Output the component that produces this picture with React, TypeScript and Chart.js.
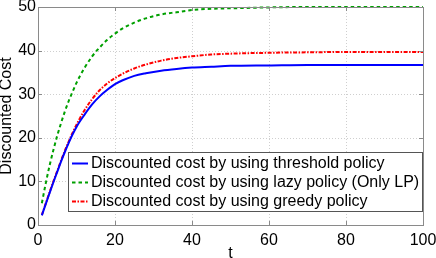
import React, { useEffect, useRef } from "react";
import { Chart, registerables } from "chart.js";

Chart.register(...registerables);

const tValues = [1, 2, 3, 4, 5, 6, 7, 8, 9, 10, 12, 14, 16, 18, 20, 22, 25, 28, 32, 36, 40, 45, 50, 60, 70, 80, 90, 100];
const thresholdCost = [2.2, 4.8, 7.3, 9.8, 12.2, 14.6, 16.8, 18.9, 20.8, 22.5, 25.2, 27.6, 29.5, 31.0, 32.3, 33.2, 34.2, 34.8, 35.4, 35.8, 36.1, 36.3, 36.5, 36.6, 36.7, 36.7, 36.7, 36.7];
const lazyCost = [5.0, 9.5, 13.6, 17.2, 20.5, 23.4, 26.1, 28.5, 30.6, 32.6, 35.9, 38.6, 40.7, 42.5, 43.9, 45.1, 46.4, 47.4, 48.3, 48.8, 49.3, 49.6, 49.7, 49.9, 50.0, 50.0, 50.0, 50.0];
const greedyCost = [2.3, 4.9, 7.5, 10.0, 12.4, 14.8, 17.1, 19.2, 21.2, 23.0, 26.2, 28.8, 30.9, 32.5, 33.7, 34.7, 35.9, 36.8, 37.7, 38.3, 38.7, 39.1, 39.3, 39.5, 39.6, 39.7, 39.7, 39.7];
const seriesLabels = [
  "Discounted cost by using threshold policy",
  "Discounted cost by using lazy policy (Only LP)",
  "Discounted cost by using greedy policy",
];
const xTicks = [0, 20, 40, 60, 80, 100];
const yTicks = [0, 10, 20, 30, 40, 50];
const xTitle = "t";
const yTitle = "Discounted Cost";

const FONT = "'Liberation Sans', Arial, Helvetica, sans-serif";

const boxPlugin = {
  id: "matlabBox",
  beforeDatasetsDraw(chart: any) {
    const { ctx, chartArea, scales } = chart;
    const { left, right, top, bottom } = chartArea;
    ctx.save();
    ctx.strokeStyle = "#cfcfcf";
    ctx.lineWidth = 1;
    ctx.setLineDash([1, 2]);
    ctx.beginPath();
    xTicks.forEach((v) => {
      const x = Math.round(scales.x.getPixelForValue(v)) + 0.5;
      if (x < left + 2 || x > right - 2) return;
      ctx.moveTo(x, top);
      ctx.lineTo(x, bottom);
    });
    yTicks.forEach((v) => {
      const y = Math.round(scales.y.getPixelForValue(v)) + 0.5;
      if (y < top + 2 || y > bottom - 2) return;
      ctx.moveTo(left, y);
      ctx.lineTo(right, y);
    });
    ctx.stroke();
    ctx.restore();
  },
  afterDatasetsDraw(chart: any) {
    const { ctx, chartArea, scales } = chart;
    const { left, right, top, bottom } = chartArea;
    ctx.save();
    ctx.strokeStyle = "#8a8a8a";
    ctx.lineWidth = 1;
    ctx.beginPath();
    const tl = 4;
    xTicks.forEach((v) => {
      const x = Math.round(scales.x.getPixelForValue(v)) + 0.5;
      ctx.moveTo(x, bottom);
      ctx.lineTo(x, bottom - tl);
      ctx.moveTo(x, top);
      ctx.lineTo(x, top + tl);
    });
    yTicks.forEach((v) => {
      const y = Math.round(scales.y.getPixelForValue(v)) + 0.5;
      ctx.moveTo(left, y);
      ctx.lineTo(left + tl, y);
      ctx.moveTo(right, y);
      ctx.lineTo(right - tl, y);
    });
    ctx.stroke();
    ctx.strokeRect(Math.round(left) + 0.5, Math.round(top) + 0.5, Math.round(right - left), Math.round(bottom - top));
    ctx.restore();
  },
  afterDraw(chart: any) {
    const { ctx, chartArea } = chart;
    const bx = Math.round(chartArea.left) + 30;
    const by = Math.round(chartArea.top) + 145;
    const bw = Math.round(chartArea.right) - 1 - bx;
    const bh = 59;
    ctx.save();
    ctx.fillStyle = "#ffffff";
    ctx.fillRect(bx, by, bw, bh);
    ctx.strokeStyle = "#555555";
    ctx.lineWidth = 1;
    ctx.strokeRect(bx + 0.5, by + 0.5, bw, bh);
    ctx.font = "16px " + FONT;
    ctx.textBaseline = "middle";
    ctx.textAlign = "left";
    chart.data.datasets.forEach((ds: any, i: number) => {
      const y = by + 11.5 + i * 19;
      ctx.save();
      ctx.strokeStyle = ds.borderColor;
      ctx.lineWidth = ds.borderWidth;
      ctx.setLineDash(ds.borderDash || []);
      ctx.beginPath();
      ctx.moveTo(bx + 4, y);
      ctx.lineTo(bx + 20, y);
      ctx.stroke();
      ctx.restore();
      ctx.fillStyle = "#000000";
      ctx.fillText(ds.label, bx + 23, y + 0.5);
    });
    ctx.restore();
  },
};

export default function App() {
  const ref = useRef<HTMLCanvasElement | null>(null);
  useEffect(() => {
    if (!ref.current) return;
    const mk = (ys: number[]) => tValues.map((t, i) => ({ x: t, y: ys[i] }));
    const chart = new Chart(ref.current, {
      type: "line",
      data: {
        datasets: [
          {
            label: seriesLabels[0],
            data: mk(thresholdCost),
            borderColor: "#0000ff",
            borderWidth: 2,
            pointRadius: 0,
            clip: 4,
            cubicInterpolationMode: "monotone",
          },
          {
            label: seriesLabels[1],
            data: mk(lazyCost),
            borderColor: "#00a000",
            borderWidth: 2,
            borderDash: [3.5, 3],
            pointRadius: 0,
            clip: 4,
            cubicInterpolationMode: "monotone",
          },
          {
            label: seriesLabels[2],
            data: mk(greedyCost),
            borderColor: "#ff0000",
            borderWidth: 2,
            borderDash: [4, 1.5, 1.5, 1.5],
            pointRadius: 0,
            clip: 4,
            cubicInterpolationMode: "monotone",
          },
        ],
      },
      options: {
        animation: false,
        responsive: false,
        devicePixelRatio: 1,
        layout: { padding: { left: 0, top: 7, right: 13, bottom: 0 } },
        plugins: {
          legend: { display: false },
          tooltip: { enabled: false },
        },
        scales: {
          x: {
            type: "linear",
            min: 0,
            max: 100,
            afterBuildTicks: (s: any) => {
              s.ticks = xTicks.map((v) => ({ value: v }));
            },
            afterFit: (s: any) => {
              s.height = 33;
              s.paddingLeft = 0;
              s.paddingRight = 0;
            },
            ticks: {
              color: "#000",
              font: { family: FONT, size: 16 },
              padding: 6,
              maxRotation: 0,
            },
            grid: { display: false, drawTicks: false },
            border: { display: false },
            title: {
              display: true,
              text: xTitle,
              color: "#000",
              font: { family: FONT, size: 16, lineHeight: 0.6 },
              padding: 0,
            },
          },
          y: {
            type: "linear",
            min: 0,
            max: 50,
            afterBuildTicks: (s: any) => {
              s.ticks = yTicks.map((v) => ({ value: v }));
            },
            afterFit: (s: any) => {
              s.width = 38;
              s.paddingTop = 0;
              s.paddingBottom = 0;
            },
            ticks: {
              color: "#000",
              font: { family: FONT, size: 16 },
              padding: 2,
            },
            grid: { display: false, drawTicks: false },
            border: { display: false },
            title: {
              display: true,
              text: yTitle,
              color: "#000",
              font: { family: FONT, size: 16, lineHeight: 0.85 },
              padding: 0,
            },
          },
        },
      },
      plugins: [boxPlugin],
    } as any);
    return () => chart.destroy();
  }, []);
  return (
    <div style={{ position: "fixed", left: 0, top: 0, width: 436, height: 258, background: "#fff" }}>
      <canvas ref={ref} width={436} height={258} style={{ display: "block" }} />
    </div>
  );
}
